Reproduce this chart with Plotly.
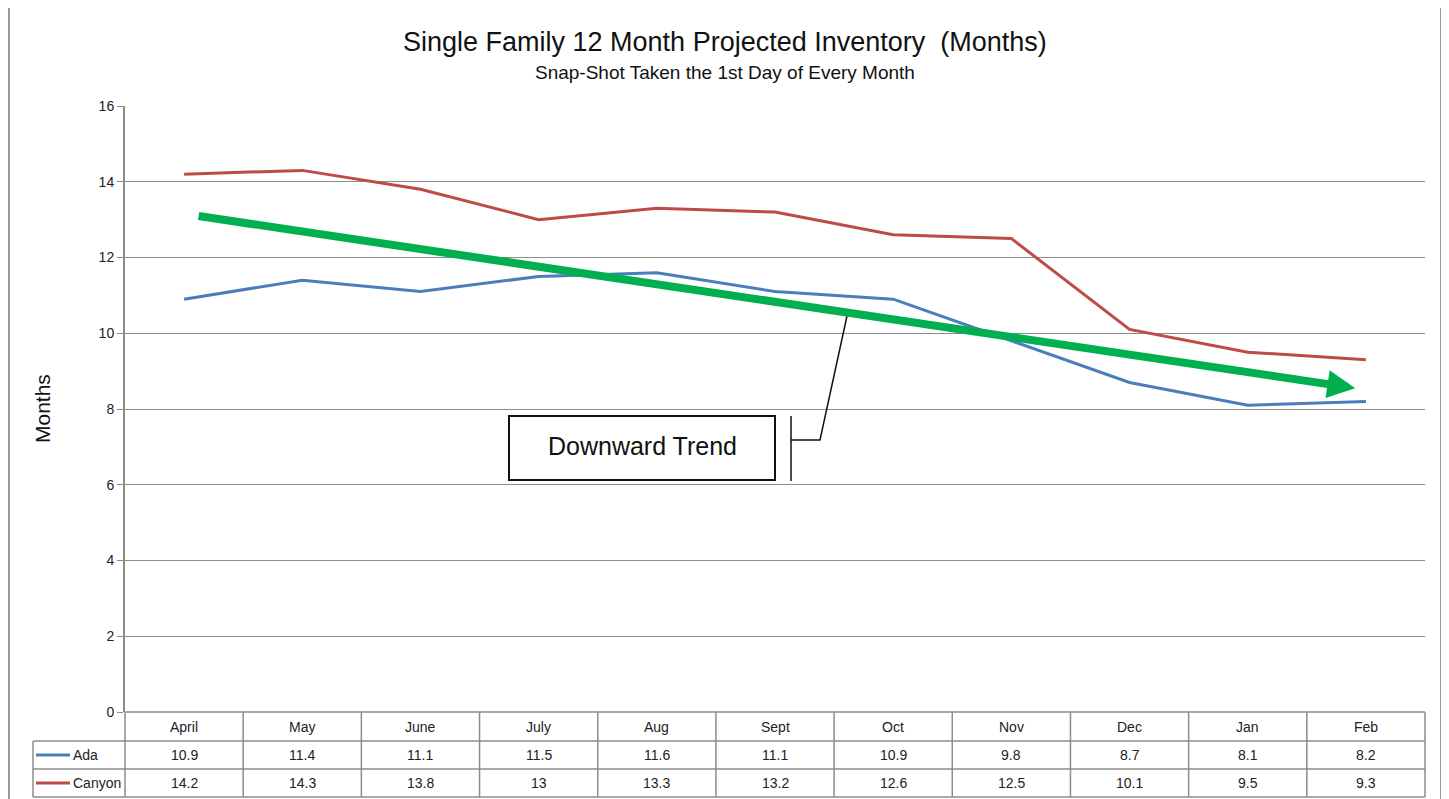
import plotly.graph_objects as go

months = ["April", "May", "June", "July", "Aug", "Sept", "Oct", "Nov", "Dec", "Jan", "Feb"]
ada = [10.9, 11.4, 11.1, 11.5, 11.6, 11.1, 10.9, 9.8, 8.7, 8.1, 8.2]
canyon = [14.2, 14.3, 13.8, 13.0, 13.3, 13.2, 12.6, 12.5, 10.1, 9.5, 9.3]
ada_labels = ["10.9", "11.4", "11.1", "11.5", "11.6", "11.1", "10.9", "9.8", "8.7", "8.1", "8.2"]
canyon_labels = ["14.2", "14.3", "13.8", "13", "13.3", "13.2", "12.6", "12.5", "10.1", "9.5", "9.3"]
trend_start = (0.11, 13.1)
trend_end = (9.91, 8.55)

W, H = 1449, 799
OFF = 8  # page body margin
L, R, T, B = 125, 1425, 106, 712
pw, ph = R - L, B - T

def px(x):
    return (x - L) / pw

def py(y):
    return (B - y) / ph

TFONT = "Liberation Sans, Arial, sans-serif"
BLUE = "#4a7ebb"
RED = "#be4b48"
GRID = "#8c8c8c"
n = len(months)

fig = go.Figure()
fig.add_trace(go.Scatter(x=list(range(n)), y=ada, mode="lines", name="Ada",
                         line=dict(color=BLUE, width=3), showlegend=False))
fig.add_trace(go.Scatter(x=list(range(n)), y=canyon, mode="lines", name="Canyon",
                         line=dict(color=RED, width=3), showlegend=False))

shapes = []
annotations = []

def txt(x, y, s, size, xanchor="center", angle=0, color="#222"):
    annotations.append(dict(x=x, y=y, xref="paper", yref="paper", text=s, showarrow=False,
                            xanchor=xanchor, yanchor="middle", textangle=angle,
                            font=dict(family=TFONT, size=size, color=color)))

# outer frame
shapes.append(dict(type="rect", xref="paper", yref="paper", x0=px(9), x1=px(1441), y0=py(810), y1=py(-10),
                   line=dict(color="#9a9a9a", width=2), layer="below"))

# data table
rows_y = [712, 741, 769, 797]
col_edges = [i / n for i in range(n + 1)]
tl = px(33)
for k, yy in enumerate(rows_y):
    x0 = 0 if k == 0 else tl
    shapes.append(dict(type="line", xref="paper", yref="paper", x0=x0, x1=1, y0=py(yy), y1=py(yy),
                       line=dict(color=GRID, width=1.5)))
for ce in col_edges:
    shapes.append(dict(type="line", xref="paper", yref="paper", x0=ce, x1=ce, y0=py(712), y1=py(797),
                       line=dict(color=GRID, width=1.5)))
shapes.append(dict(type="line", xref="paper", yref="paper", x0=tl, x1=tl, y0=py(741), y1=py(797),
                   line=dict(color=GRID, width=1.5)))

for i, m in enumerate(months):
    cx = (i + 0.5) / n
    txt(cx, py(727), m, 14)
    txt(cx, py(755), ada_labels[i], 14)
    txt(cx, py(783), canyon_labels[i], 14)

for yy, name, col in [(755, "Ada", BLUE), (783, "Canyon", RED)]:
    shapes.append(dict(type="line", xref="paper", yref="paper", x0=px(36), x1=px(70), y0=py(yy), y1=py(yy),
                       line=dict(color=col, width=3)))
    txt(px(71), py(yy), name, 14, xanchor="left")

# titles
txt(px(724.5), py(42), "Single Family 12 Month Projected Inventory  (Months)", 27, color="#111")
txt(px(724.5), py(73), "Snap-Shot Taken the 1st Day of Every Month", 19, color="#111")
txt(px(42), py(409), "Months", 21, angle=-90, color="#111")

# trend arrow
annotations.append(dict(x=trend_end[0], y=trend_end[1], ax=trend_start[0], ay=trend_start[1],
                        xref="x", yref="y", axref="x", ayref="y", text="", showarrow=True,
                        arrowhead=2, arrowsize=0.7, arrowwidth=8, arrowcolor="#00b050", standoff=0))

# callout box
shapes.append(dict(type="rect", xref="paper", yref="paper", x0=px(509), x1=px(775), y0=py(480), y1=py(416),
                   line=dict(color="#111", width=2), fillcolor="white"))
txt(px(642), py(446), "Downward Trend", 25, color="#111")
shapes.append(dict(type="line", xref="paper", yref="paper", x0=px(791), x1=px(791), y0=py(416), y1=py(481),
                   line=dict(color="#111", width=1.5)))
shapes.append(dict(type="path", xref="paper", yref="paper",
                   path=f"M {px(791)},{py(440)} L {px(820)},{py(440)} L {px(847)},{py(316)}",
                   line=dict(color="#111", width=1.5)))

fig.update_layout(
    width=W - OFF, height=H - OFF,
    margin=dict(l=L - OFF, r=W - R, t=T - OFF, b=H - B, pad=0),
    paper_bgcolor="white", plot_bgcolor="white",
    xaxis=dict(range=[-0.5, n - 0.5], showticklabels=False, showgrid=False, zeroline=False,
               showline=False, ticks=""),
    yaxis=dict(range=[0, 16], dtick=2, tick0=0, showgrid=True, gridcolor=GRID, gridwidth=1,
               zeroline=False, showline=True, linecolor=GRID, linewidth=2, ticks="outside",
               ticklen=6, tickcolor=GRID, tickfont=dict(family=TFONT, size=14, color="#222")),
    shapes=shapes, annotations=annotations,
    showlegend=False,
)

fig.write_html("out.html")
